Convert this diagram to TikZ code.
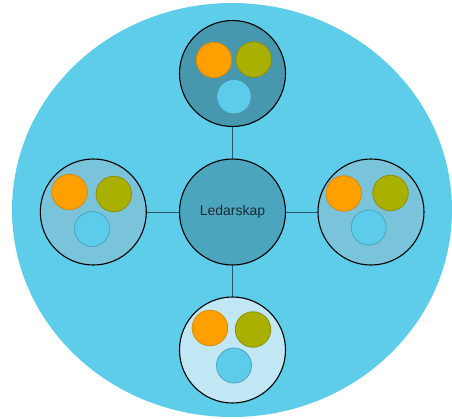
\documentclass[tikz,border=0pt]{standalone}
\usepackage{fontspec}
\setmainfont{Liberation Sans}
\definecolor{bgblue}{HTML}{5ECDE9}
\definecolor{topfill}{HTML}{4797AE}
\definecolor{centerfill}{HTML}{4BA5BC}
\definecolor{sidefill}{HTML}{7AC4DB}
\definecolor{bottomfill}{HTML}{C2E7F4}
\definecolor{orangefill}{HTML}{FFA000}
\definecolor{orangeline}{HTML}{D98A00}
\definecolor{olivefill}{HTML}{AAB000}
\definecolor{oliveline}{HTML}{8C9000}
\definecolor{innerfill}{HTML}{5CCCEA}
\definecolor{innerline}{HTML}{4AA3BE}
\definecolor{linkcol}{HTML}{2E5364}
\definecolor{textcol}{HTML}{1A2A38}
\tikzset{
  big/.style={circle, draw=black, line width=1.1pt, minimum size=106pt, inner sep=0pt},
  orangedot/.style={circle, fill=orangefill, draw=orangeline, line width=0.8pt, minimum size=35.5pt, inner sep=0pt},
  olivedot/.style={circle, fill=olivefill, draw=oliveline, line width=0.8pt, minimum size=35.5pt, inner sep=0pt},
  bluedot/.style={circle, fill=innerfill, draw=innerline, line width=0.8pt, minimum size=35pt, inner sep=0pt},
  link/.style={draw=linkcol, line width=0.8pt}
}
\begin{document}
\begin{tikzpicture}[x=1pt,y=-1pt]
\useasboundingbox (0,0) rectangle (452,418);
\begin{scope}
\clip (0,0) rectangle (452,418);
\fill[bgblue] (232,210) ellipse [x radius=220, y radius=207];
\end{scope}
% main circles
\node[big, fill=centerfill] (c) at (232.5,212) {};
\node[big, fill=topfill] (t) at (232.5,73.5) {};
\node[big, fill=sidefill] (l) at (93.3,212) {};
\node[big, fill=sidefill] (r) at (371,212) {};
\node[big, fill=bottomfill] (b) at (232.5,350) {};
\node[font=\fontsize{14}{16}\selectfont, text=textcol] (lab) at (c) {Ledarskap};
% connectors
\draw[link] (c) -- (t);
\draw[link] (c) -- (l);
\draw[link] (c) -- (r);
\draw[link] (c) -- (b);
% top inner
\node[orangedot] (to) at (214,60) {};
\node[olivedot] (tg) at (253.7,59.5) {};
\node[bluedot, draw=none, minimum size=33.5pt] (tb) at (234,96.7) {};
% left inner
\node[orangedot] (lo) at (69.5,192) {};
\node[olivedot] (lg) at (113.8,194) {};
\node[bluedot] (lb) at (92,229) {};
% right inner
\node[orangedot] (ro) at (343.8,193.5) {};
\node[olivedot] (rg) at (390.5,193) {};
\node[bluedot] (rb) at (368.7,227.5) {};
% bottom inner
\node[orangedot] (bo) at (210,328) {};
\node[olivedot] (bg) at (253,329.5) {};
\node[bluedot] (bb) at (234,365.5) {};
\end{tikzpicture}
\end{document}
